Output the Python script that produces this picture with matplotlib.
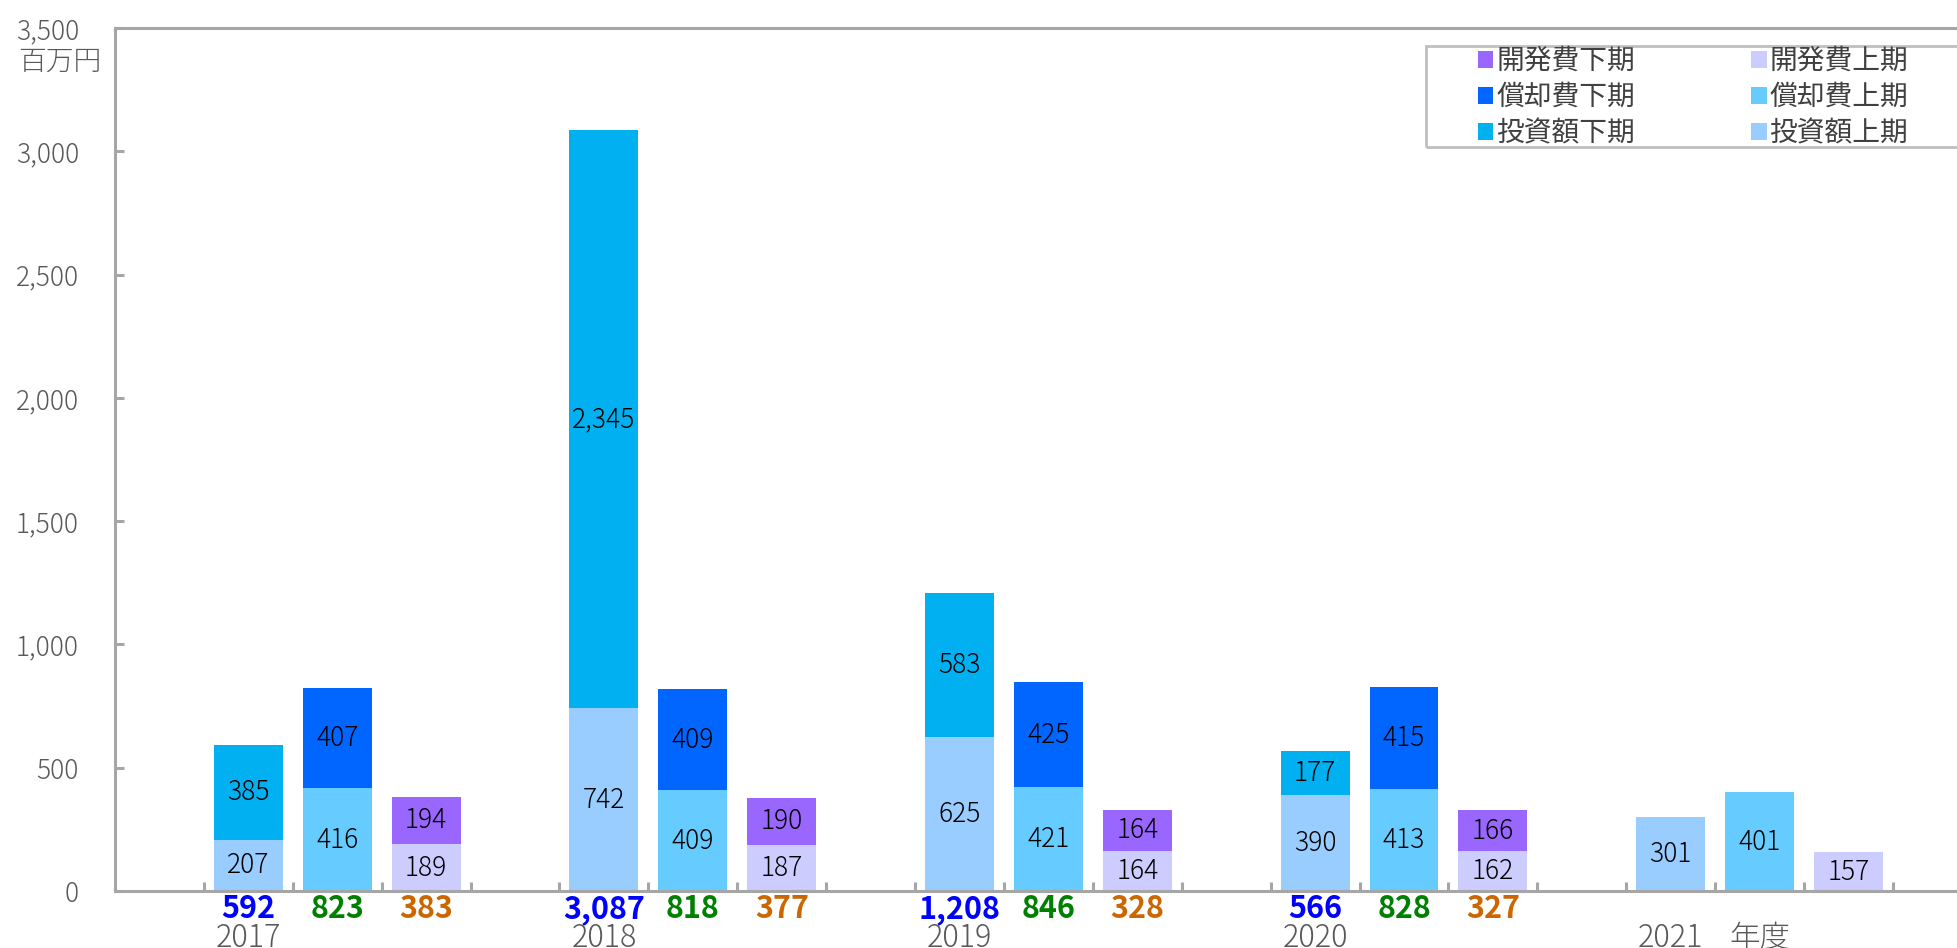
import matplotlib
matplotlib.use("Agg")
import matplotlib.pyplot as plt
import matplotlib.patches as patches
import numpy as np

plt.rcParams['font.family'] = ['Noto Sans CJK JP', 'DejaVu Sans']

# データ (百万円)
years = ['2017', '2018', '2019', '2020', '2021']
toushi_kami = [207, 742, 625, 390, 301]
toushi_shimo = [385, 2345, 583, 177, 0]
toushi_total = [592, 3087, 1208, 566, None]
shoukyaku_kami = [416, 409, 421, 413, 401]
shoukyaku_shimo = [407, 409, 425, 415, 0]
shoukyaku_total = [823, 818, 846, 828, None]
kaihatsu_kami = [189, 187, 164, 162, 157]
kaihatsu_shimo = [194, 190, 164, 166, 0]
kaihatsu_total = [383, 377, 328, 327, None]

c_toushi_kami = '#99CCFF'
c_toushi_shimo = '#00B0F0'
c_shou_kami = '#66CCFF'
c_shou_shimo = '#0066FF'
c_kai_kami = '#CCCCFF'
c_kai_shimo = '#9966FF'
axis_gray = '#A6A6A6'
text_gray = '#595959'

fig = plt.figure(figsize=(19.57, 9.48), dpi=100)
ax = fig.add_axes([115 / 1957, 57 / 948, 1 - 115 / 1957, (891 - 28) / 948])

# 各年4スロット (3本 + 空き)
base = np.arange(len(years)) * 4
w = 0.775
fs = 19


def stack(xpos, lower, upper, c_low, c_up, label_low, label_up):
    b1 = ax.bar(xpos, lower, w, color=c_low, label=label_low)
    b2 = ax.bar(xpos, upper, w, bottom=lower, color=c_up, label=label_up)
    for x, lo, up in zip(xpos, lower, upper):
        ax.text(x, lo / 2, f'{lo:,}', ha='center', va='center', fontsize=fs,
                fontweight='light', color='black')
        if up:
            ax.text(x, lo + up / 2, f'{up:,}', ha='center', va='center', fontsize=fs,
                    fontweight='light', color='black')
    return b1, b2


h_tk, h_ts = stack(base, toushi_kami, toushi_shimo, c_toushi_kami, c_toushi_shimo, '投資額上期', '投資額下期')
h_sk, h_ss = stack(base + 1, shoukyaku_kami, shoukyaku_shimo, c_shou_kami, c_shou_shimo, '償却費上期', '償却費下期')
h_kk, h_ks = stack(base + 2, kaihatsu_kami, kaihatsu_shimo, c_kai_kami, c_kai_shimo, '開発費上期', '開発費下期')

# 合計 (軸の下)
tot_y = -72
for i, x in enumerate(base):
    if toushi_total[i] is not None:
        ax.text(x, tot_y, f'{toushi_total[i]:,}', ha='center', va='center', fontsize=22,
                fontweight='bold', color='#0000FF', clip_on=False)
        ax.text(x + 1, tot_y, f'{shoukyaku_total[i]:,}', ha='center', va='center', fontsize=22,
                fontweight='bold', color='#008000', clip_on=False)
        ax.text(x + 2, tot_y, f'{kaihatsu_total[i]:,}', ha='center', va='center', fontsize=22,
                fontweight='bold', color='#CC6600', clip_on=False)
    ax.text(x, -190, years[i], ha='center', va='center', fontsize=22, fontweight='light',
            color=text_gray, clip_on=False)
ax.text(base[-1] + 1, -190, '年度', ha='center', va='center', fontsize=22, fontweight='light',
        color=text_gray, clip_on=False)

ax.set_xlim(-1.5, 19.22)
ax.set_ylim(0, 3500)
ax.set_xticks(np.arange(-0.5, 19, 1))
ax.set_xticklabels([])
ax.set_yticks(np.arange(0, 3501, 500))
ax.set_yticklabels([f'{v:,}' for v in range(0, 3501, 500)], fontweight='light')

for s in ['left', 'top', 'bottom']:
    ax.spines[s].set_color(axis_gray)
    ax.spines[s].set_linewidth(2.2)
ax.spines['right'].set_visible(False)
ax.tick_params(axis='both', direction='in', length=6.5, width=2.2, color=axis_gray,
               labelsize=fs, labelcolor=text_gray)
ax.tick_params(axis='y', pad=26)

fig.text(60 / 1957, 1 - 62 / 948, '百万円', ha='center', va='center', fontsize=20,
         fontweight='light', color=text_gray)

# 凡例
handles = [h_ks, h_ss, h_ts, h_kk, h_sk, h_tk]
labels = ['開発費下期', '償却費下期', '投資額下期', '開発費上期', '償却費上期', '投資額上期']
leg = fig.legend(handles, labels, ncol=2, loc='upper left', bbox_to_anchor=(1478 / 1957, 1 - 46 / 948),
                 frameon=False, fontsize=20, handlelength=0.55, handleheight=0.55, handletextpad=0.1,
                 columnspacing=4.2, labelspacing=0.22, borderpad=0, borderaxespad=0)
for t in leg.get_texts():
    t.set_color('#404040')
fig.patches.append(patches.Rectangle((1426 / 1957, 1 - 147 / 948), 0.4, 101 / 948, transform=fig.transFigure,
                                     fill=False, edgecolor='#BFBFBF', linewidth=2))

fig.savefig('out.png', dpi=100)
